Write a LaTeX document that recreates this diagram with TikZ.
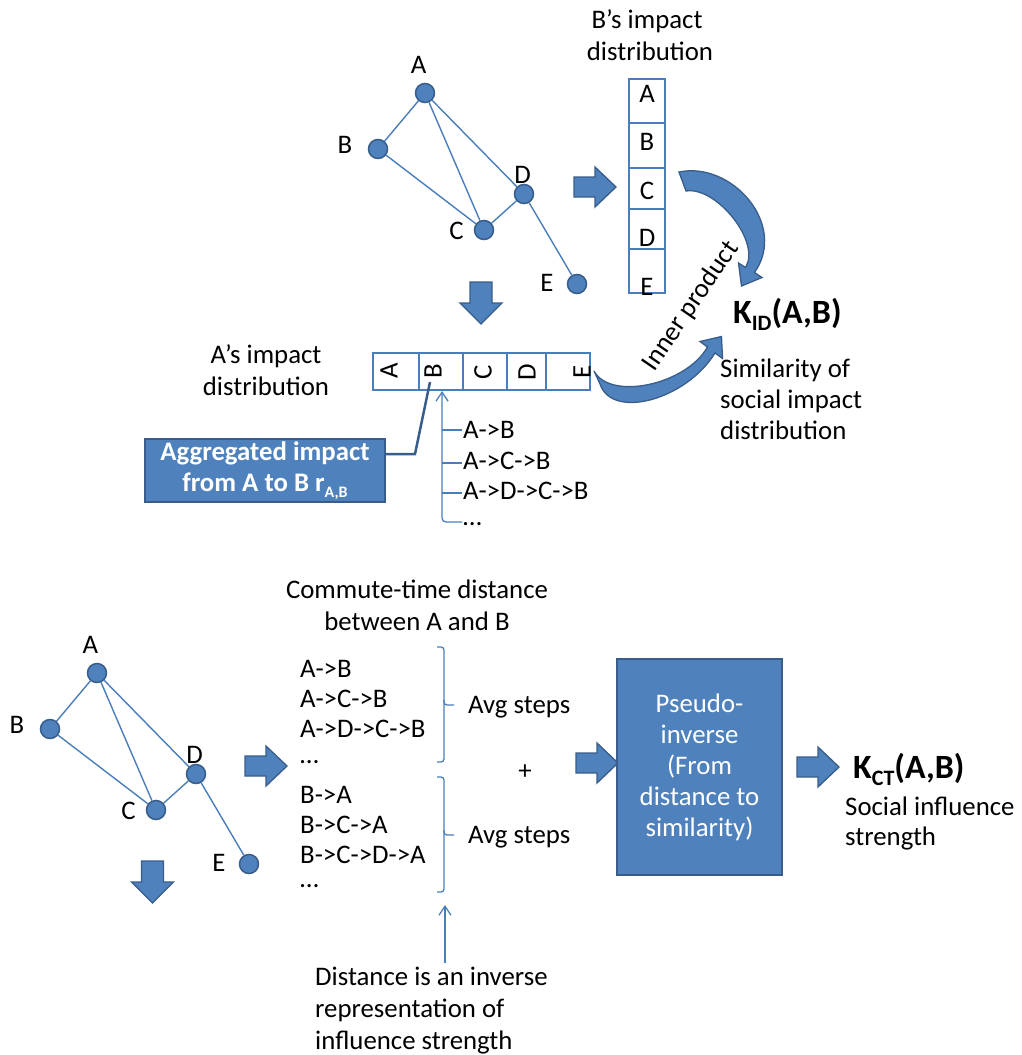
\documentclass[tikz,border=0pt]{standalone}
\usepackage{fontspec}
\setmainfont{Carlito}
\usetikzlibrary{arrows.meta,calc}
\definecolor{bfill}{HTML}{4F81BD}
\definecolor{bdark}{HTML}{385D8A}
\definecolor{bline}{HTML}{4A7EBB}
\tikzset{
  rarrowpic/.pic={\draw[barrow] (0,-10) -- (21,-10) -- (21,-20) -- (42,0) -- (21,20) -- (21,10) -- (0,10) -- cycle;},
  darrowpic/.pic={\draw[barrow] (-11,0) -- (11,0) -- (11,21) -- (21,21) -- (0,42) -- (-21,21) -- (-11,21) -- cycle;},
}
\begin{document}
\begin{tikzpicture}[x=1pt,y=-1pt,font=\fontsize{26.8}{31}\selectfont,
  gnode/.style={circle,fill=bfill,draw=bdark,line width=1.5pt,minimum size=19pt,inner sep=0pt},
  gedge/.style={draw=bline,line width=1.4pt},
  lbl/.style={inner sep=0pt},
  txt/.style={inner sep=0pt,anchor=base west},
  ctxt/.style={inner sep=0pt,anchor=base},
  vec/.style={draw=bline,line width=2pt},
  barrow/.style={fill=bfill,draw=bdark,line width=1.3pt,line join=miter},
  thinl/.style={draw=bline,line width=1.3pt},
  openhead/.style={{Straight Barb[length=9pt,width=12pt]}-},
  bluebox/.style={rectangle,fill=bfill,draw=bdark,line width=2pt,text=white,align=center,inner sep=0pt},
]
\useasboundingbox (0,0) rectangle (1021,1055);

% ---------- top graph ----------
\node[gnode] (tA) at (425,93) {};
\node[gnode] (tB) at (378,149) {};
\node[gnode] (tC) at (484,230) {};
\node[gnode] (tD) at (524,194) {};
\node[gnode] (tE) at (577,284) {};
\draw[gedge] (tA) -- (tB);
\draw[gedge] (tA) -- (tC);
\draw[gedge] (tA) -- (tD);
\draw[gedge] (tB) -- (tC);
\draw[gedge] (tC) -- (tD);
\draw[gedge] (tD) -- (tE);
\node[lbl] (tlA) at (418.5,64.5) {A};
\node[lbl] (tlB) at (345,145) {B};
\node[lbl] (tlD) at (522.5,174.5) {D};
\node[lbl] (tlC) at (456.5,230.5) {C};
\node[lbl] (tlE) at (547,282.5) {E};

% ---------- B's impact distribution ----------
\node[ctxt] (bt1) at (647,28) {B’s impact};
\node[ctxt] (bt2) at (650,60) {distribution};
\draw[vec] (629,79) rectangle (665,293);
\foreach \yy in {123,168,209,249} \draw[vec] (629,\yy) -- (665,\yy);
\node[lbl] (bvA) at (647,93.5) {A};
\node[lbl] (bvB) at (647,142) {B};
\node[lbl] (bvC) at (647,191) {C};
\node[lbl] (bvD) at (647,237.5) {D};
\node[lbl] (bvE) at (647,287) {E};

\pic at (574,187) {rarrowpic};
\pic at (481,282) {darrowpic};

% ---------- A's impact distribution ----------
\node[ctxt] (at1) at (266,363) {A’s impact};
\node[ctxt] (at2) at (266,395) {distribution};
\draw[vec] (373,353) rectangle (590,390);
\foreach \xx in {419,463,507,546} \draw[vec] (\xx,353) -- (\xx,390);
\node[lbl,rotate=90] (avA) at (389,371) {A};
\node[lbl,rotate=90] (avB) at (433,371) {B};
\node[lbl,rotate=90] (avC) at (483,372) {C};
\node[lbl,rotate=90] (avD) at (527,372) {D};
\node[lbl,rotate=90] (avE) at (582,372) {E};

% curved arrows
\draw[barrow] (679,172) .. controls (732,161) and (788,225) .. (754.5,272.5) -- (762,277.5) -- (741.5,286) -- (738.5,263) -- (745.5,267.5) .. controls (761.5,242) and (716,186) .. (686,191) -- cycle;
\draw[barrow] (594,371) -- (600,384) .. controls (612,420) and (686,400) .. (715,353) -- (722.5,358.5) -- (721.5,336.5) -- (700,341.5) -- (707.5,347) .. controls (686,385) and (610,401) .. (594,371) -- cycle;
\node[lbl,rotate=55.5,font=\fontsize{27}{31}\selectfont] (inner) at (691,306) {Inner product};

\node[txt] (kid) at (733,323) {\bfseries\fontsize{34}{34}\selectfont K\raisebox{-7pt}{\fontsize{22}{22}\selectfont ID}(A,B)};
\node[txt] (s1) at (720,377) {Similarity of};
\node[txt] (s2) at (720,408) {social impact};
\node[txt] (s3) at (720,439) {distribution};

% aggregated box
\node[bluebox,minimum width=240pt,minimum height=63pt] (agg) at (265,470.5)
  {\bfseries Aggregated impact\\\bfseries from A to B r\raisebox{-6pt}{\fontsize{16}{16}\selectfont A,B}};
\coordinate (bcell) at (430,382);
\draw[draw=bdark,line width=2.5pt] ($(agg.east)+(0,-16.5)$) -- ++(29,0) -- (bcell);

% path list (top)
\coordinate (listtop) at (442,391);
\draw[thinl,openhead,rounded corners=4pt] (listtop) -- (442,522) -- (462,522);
\foreach \yy in {430,463,493} \draw[thinl] (442,\yy) -- (462,\yy);
\node[txt] (p1) at (463,438) {A->B};
\node[txt] (p2) at (463,469) {A->C->B};
\node[txt] (p3) at (463,499) {A->D->C->B};
\node[txt] (p4) at (463,525) {\ldots};

% ---------- bottom graph ----------
\node[gnode] (bA) at (97,673) {};
\node[gnode] (bB) at (50,729) {};
\node[gnode] (bC) at (156,810) {};
\node[gnode] (bD) at (196,774) {};
\node[gnode] (bE) at (249,864) {};
\draw[gedge] (bA) -- (bB);
\draw[gedge] (bA) -- (bC);
\draw[gedge] (bA) -- (bD);
\draw[gedge] (bB) -- (bC);
\draw[gedge] (bC) -- (bD);
\draw[gedge] (bD) -- (bE);
\node[lbl] (blA) at (90.5,644.5) {A};
\node[lbl] (blB) at (17,725) {B};
\node[lbl] (blD) at (194.5,754.5) {D};
\node[lbl] (blC) at (128.5,810.5) {C};
\node[lbl] (blE) at (219,862.5) {E};

\pic at (245,766) {rarrowpic};
\pic at (152.5,861) {darrowpic};

% commute time
\node[ctxt] (ct1) at (417,598) {Commute-time distance};
\node[ctxt] (ct2) at (417,630) {between A and B};
\node[txt] (q1) at (300,677) {A->B};
\node[txt] (q2) at (300,707) {A->C->B};
\node[txt] (q3) at (300,737) {A->D->C->B};
\node[txt] (q4) at (300,763) {\ldots};
\node[txt] (r1) at (300,803) {B->A};
\node[txt] (r2) at (300,833) {B->C->A};
\node[txt] (r3) at (300,863) {B->C->D->A};
\node[txt] (r4) at (300,887) {\ldots};
\draw[thinl,rounded corners=3pt] (437,647) -- (444,647) -- (444,705) -- (454,705);
\draw[thinl,rounded corners=3pt] (444,700) -- (444,762) -- (437,762);
\draw[thinl,rounded corners=3pt] (437,777) -- (444,777) -- (444,835) -- (454,835);
\draw[thinl,rounded corners=3pt] (444,830) -- (444,892) -- (437,892);
\node[txt] (avg1) at (468,713) {Avg steps};
\node[txt] (avg2) at (468,843) {Avg steps};
\node[lbl] (plus) at (525,772) {+};

\coordinate (distarrow) at (445,963);
\draw[thinl,openhead] (445,905) -- (distarrow);
\node[txt] (d1) at (315,985) {Distance is an inverse};
\node[txt] (d2) at (315,1017) {representation of};
\node[txt] (d3) at (315,1049) {influence strength};

\pic at (576,763) {rarrowpic};
\node[bluebox,minimum width=165pt,minimum height=216pt] (pinv) at (699.5,767)
  {Pseudo-\\inverse\\(From\\distance to\\similarity)};
\pic at (797,767) {rarrowpic};

\node[txt] (kct) at (853,778) {\bfseries\fontsize{34}{34}\selectfont K\raisebox{-7pt}{\fontsize{22}{22}\selectfont CT}(A,B)};
\node[txt] (si1) at (845,815) {Social influence};
\node[txt] (si2) at (845,845) {strength};
\end{tikzpicture}
\end{document}
